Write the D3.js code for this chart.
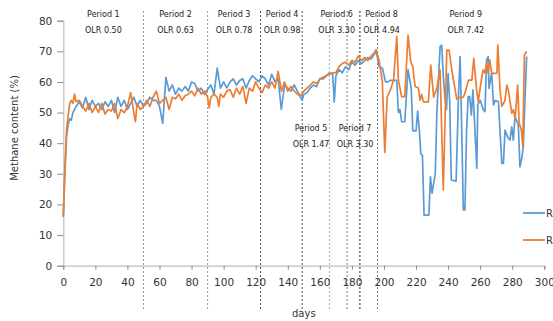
<!DOCTYPE html>
<html><head><meta charset="utf-8">
<script src="https://cdn.jsdelivr.net/npm/d3@7"></script>
<style>
html,body{margin:0;padding:0;background:#fff;}
svg{display:block;font-family:"DejaVu Sans",Verdana,sans-serif;}
</style></head>
<body><svg id="chart" width="553" height="321"></svg>
<script>
const xTicks = [0,20,40,60,80,100,120,140,160,180,200,220,240,260,280,300];
const yTicks = [0,10,20,30,40,50,60,70,80];
const seriesNames = ["R1","R2"];
const seriesColors = ["#5B9BD5","#ED7D31"];
const periodBoundaries = [50,90,123,149,166,177,185,196];
const boundaryShades = ["#999","#999","#555","#555","#aaa","#777","#222","#777"];
const periodNames = ["Period 1","Period 2","Period 3","Period 4","Period 5","Period 6","Period 7","Period 8","Period 9"];
const olrLabels = ["OLR 0.50","OLR 0.63","OLR 0.78","OLR 0.98","OLR 1.47","OLR 3.30","OLR 3.30","OLR 4.94","OLR 7.42"];
const periodLabelDay = [25,70,106.5,136.5,154.5,170.5,182,198.5,251];
const periodLabelLow = [false,false,false,false,true,false,true,false,false];

const daysR1 = [0,1,2,3,4,5,6,7,8,10,12,14,16,18,20,22,24,26,28,30,32,34,36,38,40,42,44,46,48,50,52,54,56,58,60,62,64,66,68,70,72,74,76,78,80,82,84,86,88,90,92,94,96,98,100,102,104,106,108,110,112,114,116,118,120,122,124,126,128,130,132,134,136,138,140,142,144,146,148,149,150,152,154,156,158,160,162,164,166,168,169,170,172,174,176,178,180,182,184,186,188,190,192,194,195,197,199,201,202,204,206,208,209,210,211,213,215,216,217,218,220,221,222,223,224,225,228,229,230,232,233,235,236,237,238,239,240,241,242,245,246.5,247.5,248.5,249.5,250.5,251.5,252.5,253.5,254.5,255.5,257.9,258.5,260,262,263,264,265,265.5,267.2,268.3,269.3,271.4,273.5,274.5,275.5,277.2,278.6,279.7,280.7,281.7,283.8,284.8,285.9,286.9,288,289];
const valuesR1 = [16,30,42,46,48,47.5,50,51,52,53.5,51.5,55,51,54,52,53,51,53.5,52,54,50,55,52,54,51,53,55,52,54,52,53,55,54,54,52,46.5,61.5,57,59,56,58,57,58.5,57,60,59.5,57,58,56,57.5,59,56,64.5,58,60,58,60,61,59,60.5,61,58,60.5,62,61,60,62,61,59,62.5,60,61,51,59,58,57,59,57,55,54,56,56.5,58,59,58.5,61,61,62,63,62.5,53.5,62,64,63,65,64,66.5,65.5,67,66,67,68,67.5,69,70.5,65,64.5,60,60,60.5,60.5,60.5,50,51,47,47,64,61,58,44,44,50.5,44.5,36.5,36,16.5,16.5,29,23.7,30,50,71.5,72,62,55,51,62.7,53.5,28,27.6,56,68.3,44.3,18.2,18.2,44,55.2,55.2,49.2,57.4,31.8,52.5,54,50.8,50.3,67.2,68.3,57.9,63,52.5,54,53.5,33.4,33.4,44.3,42,41,45.3,41,48.7,46,32.3,35,38.9,55,68.3];

const daysR2 = [0,1,2,3,4,5,6,7,8,10,12,14,16,18,20,22,24,26,28,30,32,34,36,38,40,42,44,45,46,48,50,52,54,56,58,60,62,64,66,68,70,72,74,76,78,80,82,84,86,88,90,91,92,94,96,97,98,100,102,104,106,108,110,112,114,116,118,120,122,124,126,128,130,132,134,136,138,140,142,144,146,148,150,152,154,156,158,160,162,164,166,168,170,172,174,176,178,180,182,184,186,188,190,192,194,195,197,199,200.5,202,204,206,208,209,211,213,215,216.7,218,219.4,221.5,222.5,223.5,224.6,227.7,229.2,231,233,235,237,239.2,240.6,242.3,245.4,247.5,249.5,250.5,252.7,254.8,256,257.8,258.8,259.8,261.8,262.9,264,265,266,267.2,270.4,271,272.4,273.5,275.5,276.6,277.7,279.7,280.7,281.8,283.4,284.3,285.7,286.6,287.6,289];
const valuesR2 = [16,32,44,49,53,54,53,56,53.5,54,52,50.5,53,50,52,50,53,49.5,51,50.5,53,48,51,50,52,56.5,50,47,53,51,52,54,52,55,57,53,54,55,51,55,54.5,56,54,55.5,56,57,55.5,58,56,57,55,51.5,55,56,55,52,56,55,57,57.5,55,58,56,58.5,53,58,57,60,58,56.5,59,58,60,58,63.5,57,60,57,58.5,57,56,55.5,57,58,59,60,59.5,61,61.5,62,62.5,63,63,65,66,66.5,65.5,67,66.5,68.5,67,68,67,68.5,69.5,70.5,67,60,37,55,57.4,60.6,74.8,60.6,55.2,55.2,75.3,66.6,65,58.5,58,54,56,53.5,53.5,65.5,55,58,63.9,24.7,70.4,70.4,63.9,54.3,55,55,56.3,60.6,60.6,67.7,57.4,53.5,57.4,63.9,63,66,63,67.2,62.8,62.8,72.1,57.4,52,54,59,57,49.8,51,48,59,46.6,44.4,38.9,68.8,70];

const svg = d3.select("#chart");
const x = d3.scaleLinear().domain([0,300]).range([63.3,544.3]);
const y = d3.scaleLinear().domain([0,80]).range([265.7,20.7]);

// period boundary lines
svg.append("g").selectAll("line").data(periodBoundaries).join("line")
  .attr("x1",d=>x(d)).attr("x2",d=>x(d)).attr("y1",11).attr("y2",310)
  .attr("stroke",(d,i)=>boundaryShades[i]).attr("stroke-width",1)
  .attr("stroke-dasharray","2,2");

// axes
const yAxis = svg.append("g").attr("transform","translate(63.3,0)")
  .call(d3.axisLeft(y).tickValues(yTicks).tickSize(6).tickPadding(5));
const xAxis = svg.append("g").attr("transform","translate(0,265.7)")
  .call(d3.axisBottom(x).tickValues(xTicks).tickSize(4).tickPadding(9));
[yAxis,xAxis].forEach(g=>{
  g.select(".domain").attr("stroke","#bfbfbf").attr("stroke-width",1.2);
  g.selectAll(".tick line").attr("stroke","#888");
  g.selectAll("text").attr("fill","#333").style("font-size","10.5px").style("font-family","DejaVu Sans");
});

// series
const line = d3.line().x(d=>x(d[0])).y(d=>y(d[1]));
const s1 = daysR1.map((d,i)=>[d,valuesR1[i]]);
const s2 = daysR2.map((d,i)=>[d,valuesR2[i]]);
[s1,s2].forEach((s,i)=>{
  svg.append("path").datum(s).attr("d",line).attr("fill","none")
    .attr("stroke",seriesColors[i]).attr("stroke-width",1.7).attr("stroke-linejoin","round");
});

// period labels
periodNames.forEach((p,i)=>{
  const yy = periodLabelLow[i] ? 131 : 17;
  svg.append("text").attr("x",x(periodLabelDay[i])).attr("y",yy).attr("text-anchor","middle")
    .style("font-size","8px").attr("fill","#222").text(p);
  svg.append("text").attr("x",x(periodLabelDay[i])).attr("y",yy+16).attr("text-anchor","middle")
    .style("font-size","8px").attr("fill","#222").text(olrLabels[i]);
});

// axis titles
svg.append("text").attr("x",x(150)).attr("y",317).attr("text-anchor","middle")
  .style("font-size","10px").attr("fill","#333").text("days");
svg.append("text").attr("transform","translate(18,128) rotate(-90)").attr("text-anchor","middle")
  .style("font-size","10px").attr("fill","#333").text("Methane content (%)");

// legend
seriesNames.forEach((n,i)=>{
  const ly = 213 + i*27;
  svg.append("line").attr("x1",523).attr("x2",545).attr("y1",ly).attr("y2",ly)
    .attr("stroke",seriesColors[i]).attr("stroke-width",1.8);
  svg.append("text").attr("x",546).attr("y",ly+4).style("font-size","10px").attr("fill","#333").text(n);
});
</script></body></html>
